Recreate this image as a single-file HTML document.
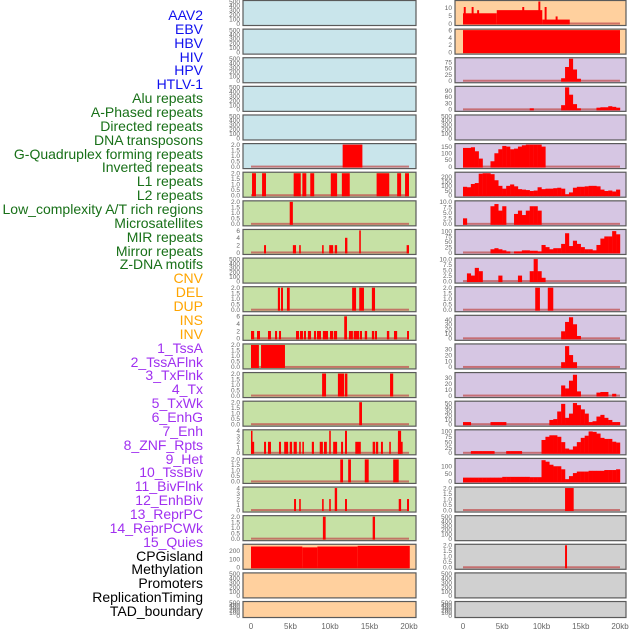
<!DOCTYPE html>
<html><head><meta charset="utf-8">
<style>
body{margin:0;background:#fff;width:630px;height:630px;overflow:hidden;font-family:"Liberation Sans",sans-serif}
#labels{position:absolute;left:0;top:0;width:203px}
.lb{position:absolute;right:0;font-size:14px;line-height:14px;white-space:nowrap}
svg{position:absolute;left:0;top:0}
</style></head><body>
<div id="labels"></div>
<svg id="chart" width="630" height="630"></svg>
<script>
const labelNames=["AAV2","EBV","HBV","HIV","HPV","HTLV-1","Alu repeats","A-Phased repeats","Directed repeats","DNA transposons","G-Quadruplex forming repeats","Inverted repeats","L1 repeats","L2 repeats","Low_complexity A/T rich regions","Microsatellites","MIR repeats","Mirror repeats","Z-DNA motifs","CNV","DEL","DUP","INS","INV","1_TssA","2_TssAFlnk","3_TxFlnk","4_Tx","5_TxWk","6_EnhG","7_Enh","8_ZNF_Rpts","9_Het","10_TssBiv","11_BivFlnk","12_EnhBiv","13_ReprPC","14_ReprPCWk","15_Quies","CPGisland","Methylation","Promoters","ReplicationTiming","TAD_boundary"];
const labelGroups=[6,13,5,15,5];
const groupColors=["#1010ee","#187018","#ffa500","#a030f0","#000000"];
const xTickKb=[0,5,10,15,20];
const xTickLabels=["0","5kb","10kb","15kb","20kb"];

const tEmpty=["0","100","200","300","400","500"],vEmpty=[0,100,200,300,400,500];
const t2=["0.0","0.5","1.0","1.5","2.0"],v2=[0,0.5,1,1.5,2];
const t6=["0","2","4","6"],v6=[0,2,4,6];
const t4=["0","1","2","3","4"],v4=[0,1,2,3,4];
const t10=["0.0","2.5","5.0","7.5","10.0"],v10=[0,2.5,5,7.5,10];
const t100=["0","25","50","75","100"],v100=[0,25,50,75,100];

// left column segments [startKb,endKb,value]
const L5=[[11.6,14.1,2]];
const L6=[[0.13,0.63,2],[1.4,1.9,2],[5.4,6.3,2],[6.5,7.0,2],[7.5,8.0,2],[10.1,10.9,2],[11.5,12.5,2],[15.9,17.5,2],[18.5,19.0,2],[19.5,20.0,2]];
const L7=[[4.9,5.3,2]];
const L8=[[1.65,1.9,2],[5.3,5.7,2],[6.1,6.3,2],[9.0,9.2,2],[9.9,10.4,2],[10.6,10.9,2],[11.9,12.2,4],[13.7,13.9,6],[19.7,20.0,2]];
const L10=[[3.4,3.67,2],[3.8,4.05,2],[4.55,4.9,2],[12.8,13.3,2],[13.7,14.3,2],[15.3,15.7,2]];
const L11=[[0,0.4,2],[0.76,1.14,2],[2.15,2.53,2],[3.04,3.3,2],[3.54,3.8,2],[5.7,6.08,2],[6.2,6.58,2],[6.7,6.96,2],[7.2,7.6,2],[7.97,8.23,2],[8.35,8.86,2],[9.1,9.75,2],[10.0,10.4,2],[10.5,10.9,2],[11.8,12.15,6],[12.4,12.9,2],[13.0,13.7,2],[13.8,14.05,2],[14.4,14.7,2],[15.3,15.6,2],[15.7,15.95,2],[17.2,17.5,2],[18.1,18.5,2],[19.75,20.0,2]];
const L12=[[0,1.0,2],[1.27,4.3,2]];
const L13=[[9.0,9.5,2],[11.0,11.8,2],[11.9,12.2,2],[17.6,18.0,2]];
const L14=[[13.7,14.05,2]];
const L15=[[0,0.13,4],[0,0.4,2],[1.65,1.9,2],[2.15,2.53,2],[3.54,3.8,2],[4.2,4.7,2],[4.9,5.2,2],[5.4,5.8,2],[6.1,6.3,2],[6.5,6.7,2],[7.7,7.97,2],[8.7,9.1,2],[9.24,9.6,2],[9.9,10.1,4],[10.4,10.9,2],[11.4,11.65,2],[11.9,12.15,4],[13.2,13.9,2],[15.4,15.7,2],[15.8,16.1,2],[16.45,16.7,2],[17.5,17.7,2],[18.6,19.0,4],[18.6,19.2,2]];
const L16=[[11.3,11.65,2],[12.3,12.65,2],[14.4,14.9,2],[18.0,18.7,2]];
const L17=[[5.45,5.7,2],[6.1,6.3,2],[9.0,9.2,2],[9.9,10.1,2],[10.6,10.9,4],[11.9,12.15,2],[18.7,19.0,2],[19.75,20,2]];
const L18=[[9.1,9.45,2],[15.4,15.7,2]];
const L19=[[0,6.5,250],[6.5,8.4,240],[8.4,13.5,250],[13.5,20.1,258]];
// right column segments
const R0=[[0,4.3,6.5],[4.3,10.1,8.5],[10.1,13.6,2.5],[0.1,0.35,10.5],[1.1,1.35,10.5],[1.8,2.05,8.5],[7.55,7.8,10.5],[9.6,9.85,14],[10.4,10.65,10.5],[11.8,12.05,4.5]];
const R1=[[0,20,6]];
const R10=[[9.2,9.8,2],[10.8,11.5,2]];
const R17=[[13.0,14.1,2]];
const R19=[[13.0,13.25,2]];
// right column 0.5kb bins (40 values)
const R2=[0,0,0,0,0,0,0,0,0,0,0,0,0,0,0,0,0,0,0,0,0,0,0,0,0,10,55,88,45,8,0,0,0,0,0,0,0,0,0,0];
const R3=[0,0,0,0,0,0,0,0,0,0,0,0,0,0,0,0,0,5,0,0,0,0,0,0,0,20,105,70,25,5,0,0,0,0,8,10,10,15,12,8];
const R5=[140,140,145,115,60,0,0,40,100,130,155,150,130,135,150,160,165,165,165,165,150,0,0,0,0,0,0,0,0,0,0,0,0,0,0,0,0,0,0,0];
const R6=[90,85,120,130,230,235,235,225,160,100,70,100,115,95,65,60,55,45,50,85,65,70,70,75,80,70,10,30,80,90,90,95,100,100,95,60,45,50,40,60];
const R7=[2.5,0,0,0,0,0,0,8,9,6,8,0,0,4.5,6,4,6,8,8,6,0,0,0,0,0,0,0,0,0,0,0,0,0,0,0,0,0,0,0,0];
const R8=[0,0,0,0,0,0,0,15,20,15,10,5,0,5,5,10,10,8,8,5,35,25,15,20,20,40,90,30,55,40,25,15,15,10,35,65,75,75,100,85];
const R9=[0,3.5,2.5,6,4.5,0,0,0,0,2.5,0,0,0,0,2.5,0,0,4.5,10,4.5,1.5,0,0,0,0,0,0,0,0,0,0,0,0,0,0,0,0,0,0,0];
const R11=[0,0,0,0,0,0,0,0,0,0,0,0,0,0,0,0,0,0,0,0,0,0,0,0,0,15,35,45,30,5,0,0,0,0,0,0,0,0,0,0];
const R12=[0,0,0,0,0,0,0,0,0,0,0,0,0,0,0,0,0,0,0,0,0,0,0,0,0,8,35,20,8,0,0,0,0,0,0,0,0,0,0,0];
const R13=[0,0,0,0,0,0,0,0,0,0,0,0,0,0,0,0,0,0,0,0,0,0,0,0,0,17,12,25,35,7,0,0,0,0,5,6,6,0,3,0];
const R14=[5,5,0,0,0,0,0,5,5,5,5,0,0,0,0,0,0,0,0,0,0,0,10,12,30,48,15,25,50,45,35,25,5,7,18,22,15,10,5,5];
const R15=[0,0,8,8,8,8,8,8,0,0,0,8,8,8,8,0,0,0,0,0,60,75,82,82,75,50,20,15,30,50,70,80,100,98,90,70,65,65,52,48];
const R16=[25,25,25,25,25,25,25,25,25,25,30,30,30,30,30,30,30,28,28,28,140,130,110,100,100,80,15,35,55,65,65,65,70,70,70,70,75,75,75,80];

const BLUE="#c9e5eb",GREEN="#c6e1a5",PEACH="#ffd09e",LAV="#d6c6e3",GRAY="#d0d0d0";
function row(name,bg,max,ticks,vals,segs,bins){return {name,bg,max,ticks,vals,segs,bins};}
const leftRows=[
row("aav2-left",BLUE,500,tEmpty,vEmpty),row("ebv-left",BLUE,500,tEmpty,vEmpty),row("hiv-left",BLUE,500,tEmpty,vEmpty),
row("hpv-left",BLUE,500,tEmpty,vEmpty),row("alu-left",BLUE,500,tEmpty,vEmpty),row("gquad-left",BLUE,2,t2,v2,L5),
row("inverted-left",GREEN,2,t2,v2,L6),row("l1-left",GREEN,2,t2,v2,L7),row("l2-left",GREEN,6,t6,v6,L8),
row("lowcomplex-left",GREEN,500,tEmpty,vEmpty),row("microsat-left",GREEN,2,t2,v2,L10),row("mir-left",GREEN,6,t6,v6,L11),
row("tssa-left",GREEN,2,t2,v2,L12),row("tssaflnk-left",GREEN,2,t2,v2,L13),row("txflnk-left",GREEN,2,t2,v2,L14),
row("tx-left",GREEN,4,t4,v4,L15),row("txwk-left",GREEN,2,t2,v2,L16),row("enhg-left",GREEN,4,t4,v4,L17),
row("enh-left",GREEN,2,t2,v2,L18),row("cpg-left",PEACH,265,["0","100","200"],[0,100,200],L19),
row("promoters-left",PEACH,500,tEmpty,vEmpty),row("tad-left",PEACH,500,tEmpty,vEmpty)];
const rightRows=[
row("aav2-right",PEACH,14,["0","5","10"],[0,5,10],R0),row("ebv-right",PEACH,6,t6,v6,R1),
row("hiv-right",LAV,88,["0","25","50","75"],[0,25,50,75],null,R2),row("hpv-right",LAV,105,["0","30","60","90"],[0,30,60,90],null,R3),
row("alu-right",LAV,500,tEmpty,vEmpty),row("gquad-right",LAV,165,["0","50","100","150"],[0,50,100,150],null,R5),
row("inverted-right",LAV,235,["0","50","100","150","200"],[0,50,100,150,200],null,R6),row("l1-right",LAV,10,t10,v10,null,R7),
row("l2-right",LAV,103,t100,v100,null,R8),row("lowcomplex-right",LAV,10,t10,v10,null,R9),
row("microsat-right",LAV,2,t2,v2,R10),row("mir-right",LAV,47,["0","10","20","30","40"],[0,10,20,30,40],null,R11),
row("tssa-right",LAV,37,["0","10","20","30"],[0,10,20,30],null,R12),row("tssaflnk-right",LAV,37,["0","10","20","30"],[0,10,20,30],null,R13),
row("txflnk-right",LAV,52,["0","10","20","30","40","50"],[0,10,20,30,40,50],null,R14),row("tx-right",LAV,103,t100,v100,null,R15),
row("txwk-right",LAV,145,["0","50","100"],[0,50,100],null,R16),row("enhg-right",GRAY,2,t2,v2,R17),
row("enh-right",GRAY,500,tEmpty,vEmpty),row("cpg-right",GRAY,2,t2,v2,R19),
row("promoters-right",GRAY,500,tEmpty,vEmpty),row("tad-right",GRAY,500,tEmpty,vEmpty)];

// labels
const lab=document.getElementById('labels');
let gi=0,cnt=0;
labelNames.forEach((n,i)=>{
  while(cnt>=labelGroups[gi]){cnt=0;gi++;}
  cnt++;
  const d=document.createElement('div');
  d.className='lb';
  
  
  d.style.top=(8+i*13.86)+'px';
  d.style.color=groupColors[gi];
  d.textContent=n;
  lab.appendChild(d);
});

const NS="http://www.w3.org/2000/svg";
const svg=document.getElementById('chart');
function mk(tag,attrs,parent){const e=document.createElementNS(NS,tag);for(const k in attrs)e.setAttribute(k,attrs[k]);(parent||svg).appendChild(e);return e;}
const cols=[{rows:leftRows,x0:243,x1:416,k0:251,k20:409},{rows:rightRows,x0:455,x1:626,k0:463,k20:620}];
cols.forEach(c=>{
  const xs=kb=>c.k0+(c.k20-c.k0)*kb/20;
  c.rows.forEach((r,i)=>{
    const top=0.5+i*28.62, h=(i===21)?16:25, bot=top+h;
    const ys=v=>bot-2-(v/r.max)*(h-3);
    const g=mk('g',{});
    
    
    const bg=mk('rect',{x:c.x0,y:top,width:c.x1-c.x0,height:h,fill:r.bg,stroke:'#5a5a5a','stroke-width':1.2},g);
    
    
    const hasData=!!(r.segs||r.bins);
    if(hasData){
      const bl=mk('rect',{x:xs(0),y:ys(0)-1,width:xs(20)-xs(0),height:2,fill:'#c05050',opacity:0.75},g);
      
      
    }
    if(r.segs) r.segs.forEach(s=>{
      const b=mk('rect',{x:xs(s[0]),y:ys(s[2]),width:Math.max(xs(s[1])-xs(s[0]),1.5),height:ys(0)-ys(s[2])+1,fill:'#ff0000'},g);
      
      
    });
    if(r.bins) r.bins.forEach((v,j)=>{
      if(v<=0) return;
      const b=mk('rect',{x:xs(j*0.5),y:ys(v),width:xs((j+1)*0.5)-xs(j*0.5)+0.2,height:ys(0)-ys(v)+1,fill:'#ff0000'},g);
      
      
    });
    r.vals.forEach((v,j)=>{
      const t=mk('text',{x:c.x0-3,y:ys(v)+2.3,'font-size':6.5,fill:'#666','text-anchor':'end','font-family':'Liberation Sans, sans-serif'},g);
      
      
      t.textContent=r.ticks[j];
    });
  });
  xTickKb.forEach((k,j)=>{
    const t=mk('text',{x:xs(k),y:629,'font-size':8,fill:'#666','text-anchor':'middle','font-family':'Liberation Sans, sans-serif'});
    
    
    t.textContent=xTickLabels[j];
  });
});
</script>
</body></html>
